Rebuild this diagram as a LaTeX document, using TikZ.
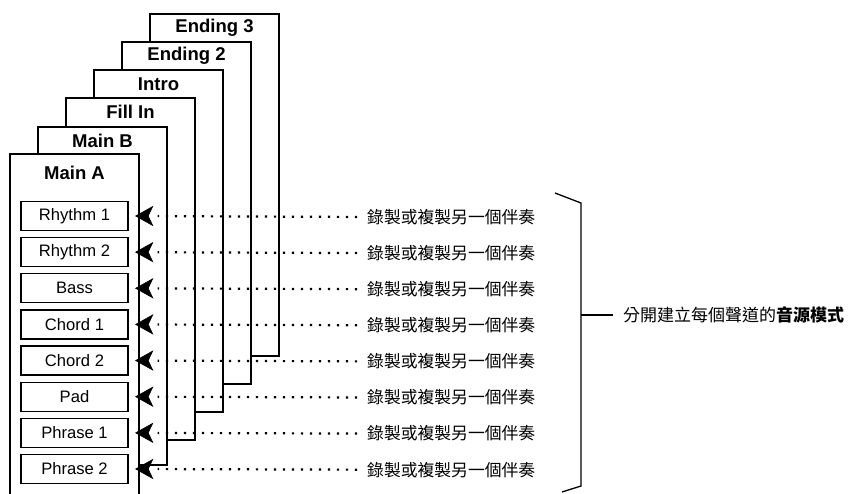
\documentclass[tikz,border=0pt]{standalone}
\usepackage{fontspec}
\setmainfont{Liberation Sans}
\newfontfamily\cjk{Noto Sans CJK TC}
\usetikzlibrary{arrows.meta,calc}
\tikzset{
  page/.style={draw=black,fill=white,line width=2.4pt,line join=miter},
  pagetitle/.style={font=\fontsize{18.5}{20}\selectfont\bfseries,inner sep=0pt},
  track/.style={draw=black,line width=1.4pt,minimum width=107pt,minimum height=29pt,inner sep=0pt,font=\fontsize{16.6}{18}\selectfont},
  rec/.style={font=\cjk\fontsize{16.8}{18}\selectfont,inner sep=0pt,anchor=west},
  dotline/.style={line width=2.2pt,dash pattern=on 2.2pt off 6.8pt,shorten <=10pt,shorten >=29pt},
  headtip/.style={fill=black,draw=black,line width=0.6pt,line join=miter},
  bracket/.style={line width=1.3pt},
}
\begin{document}
\begin{tikzpicture}[x=1pt,y=-1pt]
\useasboundingbox (0,0) rectangle (849,493);
% pages, back to front
\draw[page] (150,14) rectangle (279,356);
\node[pagetitle] (t6) at (214.5,28) {Ending 3};
\draw[page] (122,42) rectangle (251,384);
\node[pagetitle] (t5) at (186.5,56) {Ending 2};
\draw[page] (94,70) rectangle (223,412);
\node[pagetitle] (t4) at (158.5,84) {Intro};
\draw[page] (66,98) rectangle (195,440);
\node[pagetitle] (t3) at (130.5,112) {Fill In};
\draw[page] (38,127) rectangle (167,465);
\node[pagetitle] (t2) at (102.5,140.5) {Main B};
\draw[page] (10,497) -- (10,154) -- (139,154) -- (139,497);
\node[pagetitle] (t1) at (74.5,173) {Main A};
% tracks
\foreach \name/\lab [count=\i from 0] in {r1/Rhythm 1,r2/Rhythm 2,ba/Bass,c1/Chord 1,c2/Chord 2,pa/Pad,p1/Phrase 1,p2/Phrase 2}{
  \node[track] (\name) at (74.5,{216+36.14*\i}) {\lab};
  \node[rec] (l\name) at (367,{217+36.1*\i}) {錄製或複製另一個伴奏};
  \draw[dotline] (l\name.west) -- (\name.east);
  \filldraw[headtip] ($(\name.east)+(7pt,0)$) -- ++(17pt,-9.5pt) -- ++(-4.5pt,9.5pt) -- ++(4.5pt,9.5pt) -- cycle;
}
% bracket
\coordinate (bt) at (555,193);
\coordinate (btc) at (581,203);
\coordinate (bbc) at (581,486);
\coordinate (bb) at (562,492);
\coordinate (bm) at (581,315);
\draw[bracket] (bt) -- (btc) -- (bbc) -- (bb);
\node[font=\cjk\fontsize{17}{19}\selectfont,inner sep=0pt,anchor=west] (note) at (623,315) {分開建立每個聲道的\textbf{音源模式}};
\draw[bracket] (bm) -- ($(note.west)+(-10pt,0)$);
\end{tikzpicture}
\end{document}
